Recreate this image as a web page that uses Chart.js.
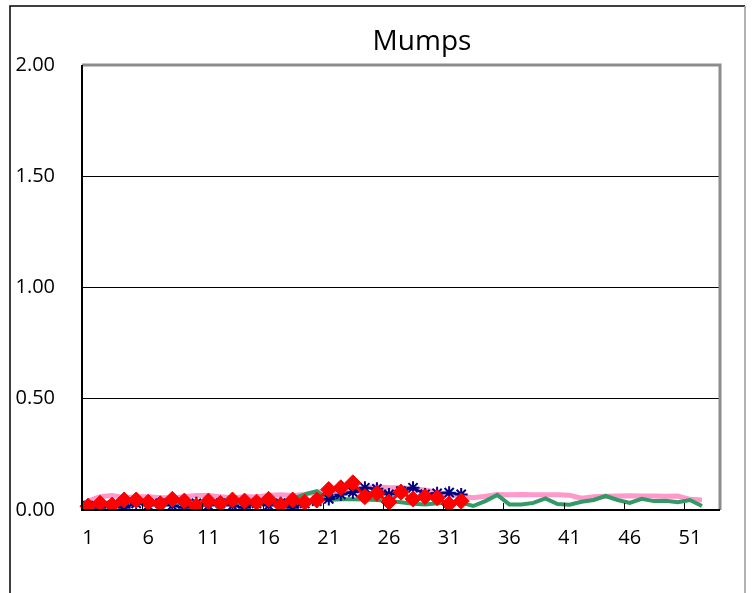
<!DOCTYPE html>
<html>
<head>
<meta charset="utf-8">
<script src="https://cdn.jsdelivr.net/npm/chart.js@4.4.1/dist/chart.umd.min.js"></script>
<style>
  html, body { margin: 0; padding: 0; background: #fff; }
  #wrap { width: 752px; height: 593px; }
</style>
</head>
<body>
<div id="wrap"><canvas id="mumpsChart" width="752" height="593"></canvas></div>
<script>
// Weeks 1..53 (week 53 is empty)
const weeks = Array.from({ length: 53 }, (_, i) => String(i + 1));
const yTicks = [0, 0.5, 1, 1.5, 2];

// Pink series (weeks 1-52)
const pinkValues = [0.04, 0.06, 0.065, 0.055, 0.06, 0.06, 0.055, 0.055, 0.06, 0.065,
  0.065, 0.06, 0.055, 0.06, 0.06, 0.065, 0.068, 0.065, 0.07, 0.08,
  0.085, 0.09, 0.09, 0.1, 0.105, 0.1, 0.1, 0.095, 0.09, 0.08,
  0.07, 0.062, 0.055, 0.062, 0.07, 0.068, 0.07, 0.068, 0.068, 0.068,
  0.066, 0.053, 0.06, 0.062, 0.063, 0.064, 0.063, 0.063, 0.062, 0.063,
  0.048, 0.045];

// Green series (weeks 1-52)
const greenValues = [0.03, 0.03, 0.035, 0.04, 0.035, 0.04, 0.03, 0.035, 0.03, 0.025,
  0.035, 0.03, 0.035, 0.03, 0.035, 0.03, 0.04, 0.05, 0.07, 0.085,
  0.045, 0.048, 0.048, 0.047, 0.045, 0.04, 0.035, 0.028, 0.025, 0.03,
  0.033, 0.033, 0.018, 0.04, 0.068, 0.025, 0.025, 0.032, 0.052, 0.027,
  0.024, 0.037, 0.045, 0.063, 0.045, 0.032, 0.05, 0.04, 0.042, 0.035,
  0.045, 0.018];

// Blue asterisk series (weeks 1-32)
const blueValues = [0.02, 0.01, 0.02, 0.01, 0.03, 0.02, 0.03, 0.02, 0.01, 0.03,
  0.02, 0.03, 0.02, 0.01, 0.03, 0.02, 0.03, 0.01, 0.03, 0.04,
  0.05, 0.07, 0.08, 0.1, 0.095, 0.07, 0.085, 0.1, 0.07, 0.075,
  0.078, 0.07];

// Red diamond series (weeks 1-32)
const redValues = [0.017, 0.03, 0.022, 0.045, 0.045, 0.035, 0.028, 0.048, 0.04, 0.018,
  0.04, 0.03, 0.045, 0.04, 0.035, 0.048, 0.022, 0.045, 0.035, 0.045,
  0.092, 0.1, 0.122, 0.06, 0.075, 0.036, 0.08, 0.05, 0.06, 0.055,
  0.027, 0.04];

const FONT = "'Open Sans', sans-serif";

// Outer frame, plot frame, inner x ticks and the title
const framePlugin = {
  id: 'frame',
  beforeDraw(chart) {
    const ctx = chart.ctx;
    ctx.save();
    ctx.fillStyle = '#fff';
    ctx.fillRect(0, 0, chart.width, chart.height);
    ctx.lineWidth = 1.5;
    ctx.strokeStyle = '#000';
    ctx.beginPath();
    ctx.moveTo(10, 593); ctx.lineTo(10, 6); ctx.lineTo(745, 6);
    ctx.stroke();
    ctx.strokeStyle = '#999';
    ctx.beginPath();
    ctx.moveTo(745, 6); ctx.lineTo(745, 593);
    ctx.stroke();
    ctx.restore();
  },
  afterDraw(chart) {
    const { ctx, chartArea: a } = chart;
    const xs = chart.scales.x;
    ctx.save();
    // grey top/right
    ctx.strokeStyle = '#8c8c8c';
    ctx.lineWidth = 3;
    ctx.beginPath();
    ctx.moveTo(a.left, a.top); ctx.lineTo(a.right, a.top); ctx.lineTo(a.right, a.bottom);
    ctx.stroke();
    // black left/bottom
    ctx.strokeStyle = '#000';
    ctx.lineWidth = 2;
    ctx.beginPath();
    ctx.moveTo(a.left, a.top); ctx.lineTo(a.left, a.bottom); ctx.lineTo(a.right, a.bottom);
    ctx.stroke();
    // inward tick marks every 5 weeks, on category boundaries
    const half = (xs.getPixelForValue(1) - xs.getPixelForValue(0)) / 2;
    ctx.lineWidth = 1;
    ctx.beginPath();
    for (let i = 5; i < weeks.length; i += 5) {
      const x = Math.round(xs.getPixelForValue(i) - half) + 0.5;
      ctx.moveTo(x, a.bottom); ctx.lineTo(x, a.bottom - 7);
    }
    ctx.stroke();
    // title
    ctx.fillStyle = '#000';
    ctx.font = '28px ' + FONT;
    ctx.textAlign = 'center';
    ctx.textBaseline = 'middle';
    ctx.fillText('Mumps', 422, 42);
    ctx.restore();
  }
};

new Chart(document.getElementById('mumpsChart'), {
  type: 'line',
  data: {
    labels: weeks,
    datasets: [
      {
        label: 'Red',
        data: redValues,
        borderColor: '#FF0000',
        backgroundColor: '#FF0000',
        borderWidth: 3,
        pointStyle: 'rectRot',
        pointRadius: 8,
        pointBorderWidth: 1,
        tension: 0
      },
      {
        label: 'Blue',
        data: blueValues,
        borderColor: '#000080',
        backgroundColor: '#000080',
        borderWidth: 2.5,
        pointStyle: 'star',
        pointRadius: 6.5,
        pointBorderWidth: 2,
        tension: 0
      },
      {
        label: 'Green',
        data: greenValues,
        borderColor: '#339966',
        borderWidth: 4,
        pointRadius: 0,
        tension: 0
      },
      {
        label: 'Pink',
        data: pinkValues,
        borderColor: '#FF99CC',
        borderWidth: 5,
        pointRadius: 0,
        tension: 0
      }
    ]
  },
  options: {
    responsive: false,
    animation: false,
    devicePixelRatio: 1,
    layout: { padding: { top: 65, right: 32, left: 0, bottom: 0 } },
    plugins: {
      legend: { display: false },
      title: { display: false },
      tooltip: { enabled: false }
    },
    scales: {
      x: {
        type: 'category',
        offset: true,
        afterFit: (s) => { s.height = 83; },
        grid: { display: false },
        border: { display: false },
        ticks: {
          autoSkip: false,
          maxRotation: 0,
          padding: 8,
          color: '#000',
          font: { family: FONT, size: 20 },
          callback: (v, i) => (i % 5 === 0 ? weeks[i] : '')
        }
      },
      y: {
        min: 0,
        max: 2,
        afterFit: (s) => { s.width = 82; },
        afterBuildTicks: (s) => { s.ticks = yTicks.map(v => ({ value: v })); },
        grid: {
          drawTicks: false,
          color: (c) => (c.tick && (c.tick.value === 0 || c.tick.value === 2) ? 'rgba(0,0,0,0)' : '#000'),
          lineWidth: 1
        },
        border: { display: false },
        ticks: {
          padding: 27,
          color: '#000',
          font: { family: FONT, size: 20 },
          callback: (v) => Number(v).toFixed(2)
        }
      }
    }
  },
  plugins: [framePlugin]
});
</script>
</body>
</html>
